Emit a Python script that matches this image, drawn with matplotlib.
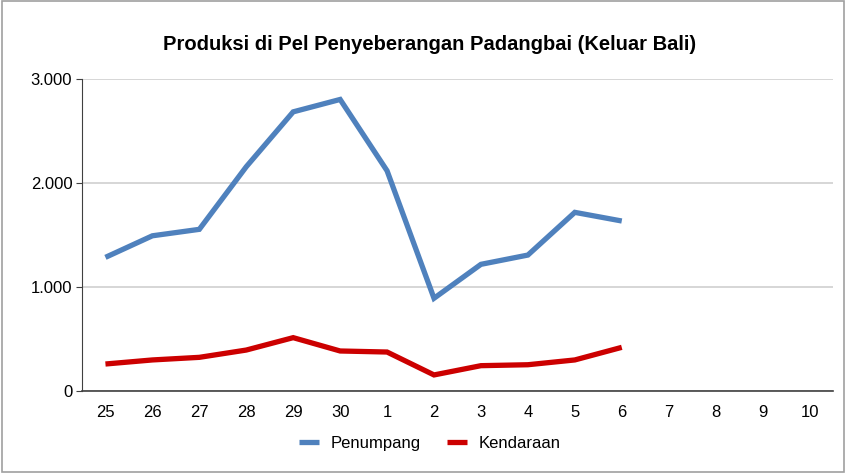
import matplotlib
matplotlib.use("Agg")
import matplotlib.pyplot as plt
from matplotlib.patches import Rectangle

# data
days = ["25", "26", "27", "28", "29", "30", "1", "2", "3", "4", "5", "6", "7", "8", "9", "10"]
penumpang = [1283, 1490, 1552, 2153, 2680, 2799, 2114, 890, 1216, 1305, 1715, 1632]
kendaraan = [259, 298, 323, 393, 512, 384, 374, 154, 243, 252, 298, 419]
yticks = [0, 1000, 2000, 3000]
ytick_labels = ["0", "1.000", "2.000", "3.000"]

plt.rcParams['font.family'] = ['Liberation Sans', 'DejaVu Sans']

fig = plt.figure(figsize=(8.46, 4.73), dpi=100)
ax = fig.add_axes([0.0969, 0.1734, 0.8877, 0.6606])

x = list(range(len(days)))
ax.plot(x[:len(penumpang)], penumpang, color='#4F81BD', lw=3.8, label='Penumpang',
        solid_joinstyle='miter', solid_capstyle='butt')
ax.plot(x[:len(kendaraan)], kendaraan, color='#CC0000', lw=3.8, label='Kendaraan',
        solid_joinstyle='miter', solid_capstyle='butt')

ax.set_xlim(-0.5, len(days) - 0.5)
ax.set_ylim(0, 3000)
ax.set_xticks(x)
ax.set_xticklabels(days, fontsize=12)
ax.set_yticks(yticks)
ax.set_yticklabels(ytick_labels, fontsize=12)
ax.tick_params(axis='x', length=0, pad=10)
ax.tick_params(axis='y', length=4, width=0.8, color='#404040', pad=3)

ax.grid(axis='y', color='#D0D0D0', lw=1.2)
ax.set_axisbelow(True)
for s in ['top', 'right']:
    ax.spines[s].set_visible(False)
ax.spines['left'].set_color('#404040')
ax.spines['bottom'].set_color('#404040')
ax.spines['bottom'].set_linewidth(1.2)

fig.text(0.508, 0.905, 'Produksi di Pel Penyeberangan Padangbai (Keluar Bali)',
         fontsize=14.5, fontweight='bold', ha='center', va='center')

fig.legend(loc='center', bbox_to_anchor=(0.508, 0.063), ncol=2, frameon=False,
           fontsize=12, handlelength=1.2, columnspacing=1.6, handletextpad=0.7)

fig.patches.append(Rectangle((0.002, 0.002), 0.996, 0.996, transform=fig.transFigure,
                             fill=False, edgecolor='#A0A0A0', lw=1.2))

fig.savefig('out.png', dpi=100)
